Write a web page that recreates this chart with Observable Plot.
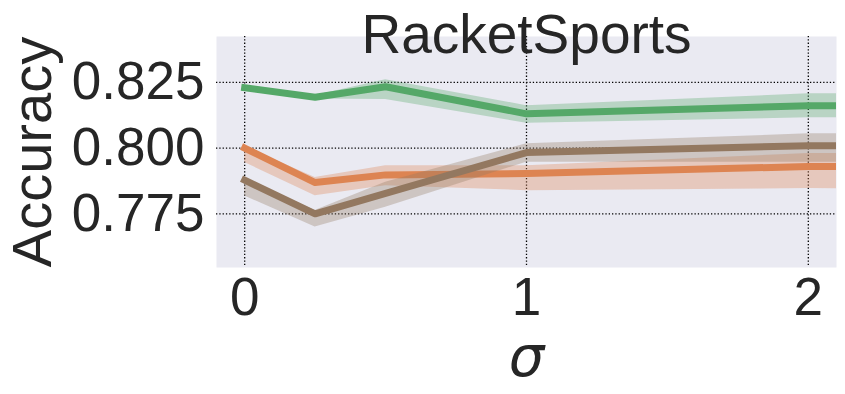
<!DOCTYPE html>
<html><head><meta charset="utf-8">
<script src="https://cdn.jsdelivr.net/npm/d3@7"></script>
<script src="https://cdn.jsdelivr.net/npm/@observablehq/plot@0.6"></script>
<style>html,body{margin:0;padding:0;background:#fff}</style>
</head><body><div id="chart"></div>
<script>
const title = "RacketSports";
const xLabel = "σ";
const yLabel = "Accuracy";
const sigma = [0, 0.25, 0.5, 1, 2, 3];
const xTicks = [0, 1, 2];
const yTicks = [0.775, 0.8, 0.825];

const greenMean = [0.8229, 0.8193, 0.8233, 0.8130, 0.8161, 0.8163];
const greenLo   = [0.8222, 0.8186, 0.8185, 0.8094, 0.8115, 0.8115];
const greenHi   = [0.8236, 0.8200, 0.8260, 0.8161, 0.8206, 0.8210];

const orangeMean = [0.8000, 0.7869, 0.7898, 0.7903, 0.7930, 0.7928];
const orangeLo   = [0.7945, 0.7819, 0.7857, 0.7838, 0.7846, 0.7843];
const orangeHi   = [0.8005, 0.7888, 0.7933, 0.7933, 0.7979, 0.7979];

const brownMean = [0.7878, 0.7750, 0.7828, 0.7983, 0.8009, 0.8008];
const brownLo   = [0.7818, 0.7700, 0.7775, 0.7946, 0.7946, 0.7946];
const brownHi   = [0.7885, 0.7763, 0.7870, 0.8016, 0.8054, 0.8054];

const seriesNames = ["green", "orange", "brown"];
const seriesColors = ["#55A868", "#DD8452", "#937860"];
const means = [greenMean, orangeMean, brownMean];
const los = [greenLo, orangeLo, brownLo];
const his = [greenHi, orangeHi, brownHi];

const rowsFor = (k) => sigma.map((x, i) => ({series: seriesNames[k], x, mean: means[k][i], lo: los[k][i], hi: his[k][i]}));

const textColor = "#262626";
const font = "'Liberation Sans', Arial, sans-serif";

const marks = [
  Plot.frame({fill: "#EAEAF2", stroke: null}),
  Plot.gridX(xTicks, {stroke: "black", strokeOpacity: 1, strokeWidth: 1.3, strokeDasharray: "1.3,2"}),
  Plot.gridY(yTicks, {stroke: "black", strokeOpacity: 1, strokeWidth: 1.3, strokeDasharray: "1.3,2"})
];
seriesNames.forEach((name, k) => {
  const rows = rowsFor(k);
  marks.push(Plot.areaY(rows, {x: "x", y1: "lo", y2: "hi", fill: seriesColors[k], fillOpacity: 0.33, clip: true}));
  marks.push(Plot.lineY(rows, {x: "x", y: "mean", stroke: seriesColors[k], strokeWidth: 7, strokeLinecap: "square", strokeLinejoin: "round", clip: true}));
});
marks.push(
  Plot.axisX(xTicks, {tickSize: 0, tickPadding: 10, fontSize: 53, fill: textColor, tickFormat: d3.format("d"), label: null}),
  Plot.axisY(yTicks, {tickSize: 0, tickPadding: 12, fontSize: 53, fill: textColor, tickFormat: d3.format(".3f"), label: null}),
  Plot.text([title], {frameAnchor: "top", textAnchor: "middle", lineAnchor: "bottom", dy: 16, fontSize: 55, fill: textColor, fontFamily: font}),
  Plot.text([xLabel], {frameAnchor: "bottom", textAnchor: "middle", lineAnchor: "bottom", dy: 108, fontSize: 56, fill: textColor, fontFamily: "'DejaVu Sans', sans-serif", fontStyle: "italic"}),
  Plot.text([yLabel], {frameAnchor: "left", textAnchor: "middle", lineAnchor: "bottom", rotate: -90, dx: -166, fontSize: 56, fill: textColor, fontFamily: font})
);

const chart = Plot.plot({
  width: 845,
  height: 394,
  marginTop: 36,
  marginBottom: 127,
  marginLeft: 216,
  marginRight: 9,
  style: {fontFamily: font, fontSize: "53px", color: textColor, background: "#fff"},
  x: {domain: [-0.1, 2.1]},
  y: {domain: [0.7546, 0.8424]},
  marks
});
document.getElementById("chart").appendChild(chart);
</script>
</body></html>
